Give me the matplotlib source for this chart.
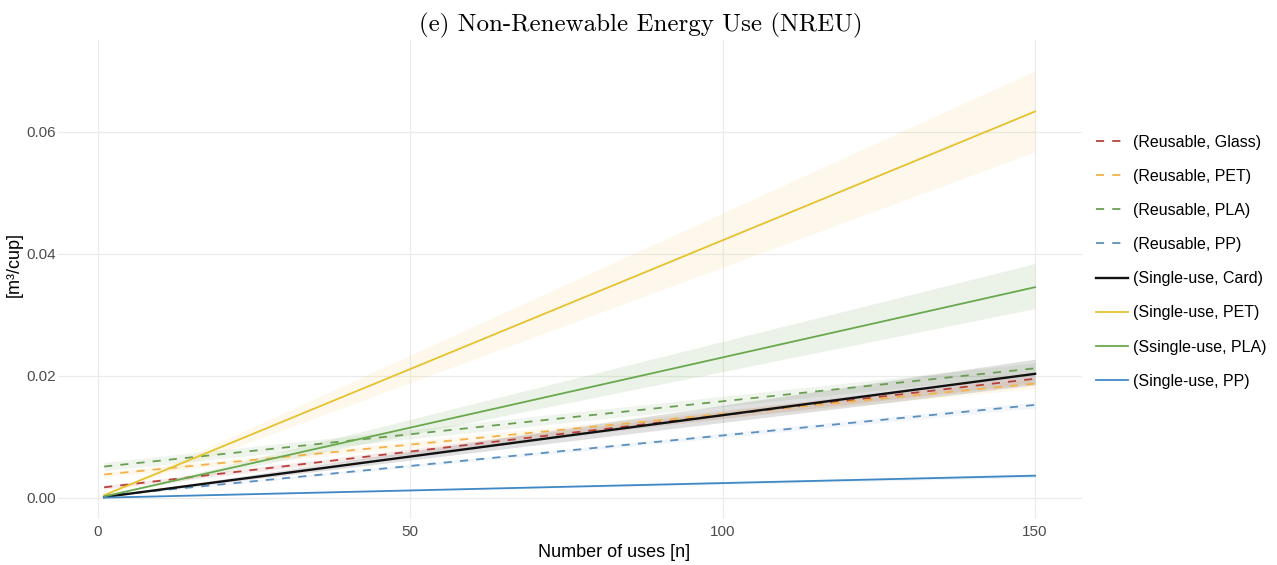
import matplotlib
matplotlib.use("Agg")
import matplotlib.pyplot as plt

plt.rcParams["font.family"] = ["Liberation Sans", "DejaVu Sans"]

# linear trends evaluated at the first and last number of uses
n_uses = [1, 150]

labels = [
    "(Reusable, Glass)",
    "(Reusable, PET)",
    "(Reusable, PLA)",
    "(Reusable, PP)",
    "(Single-use, Card)",
    "(Single-use, PET)",
    "(Ssingle-use, PLA)",
    "(Single-use, PP)",
]

reuse_glass = [0.0017, 0.0195]
reuse_glass_lo = [0.0014, 0.0188]
reuse_glass_hi = [0.0020, 0.0203]

reuse_pet = [0.0038, 0.0187]
reuse_pet_lo = [0.0034, 0.0179]
reuse_pet_hi = [0.0042, 0.0195]

reuse_pla = [0.0051, 0.0212]
reuse_pla_lo = [0.0044, 0.0203]
reuse_pla_hi = [0.0058, 0.0221]

reuse_pp = [0.0003, 0.0152]
reuse_pp_lo = [0.0002, 0.0147]
reuse_pp_hi = [0.0004, 0.0157]

single_card = [0.0001, 0.0203]
single_card_lo = [0.0001, 0.0185]
single_card_hi = [0.0002, 0.0227]

single_pet = [0.0004, 0.0633]
single_pet_lo = [0.0003, 0.0567]
single_pet_hi = [0.0005, 0.0700]

single_pla = [0.0002, 0.0345]
single_pla_lo = [0.0002, 0.0310]
single_pla_hi = [0.0003, 0.0384]

single_pp = [0.0000, 0.0036]
single_pp_lo = [0.0000, 0.0033]
single_pp_hi = [0.0000, 0.0039]

series = [
    (reuse_glass, reuse_glass_lo, reuse_glass_hi, "#b8403a", "dashed", 0.10),
    (reuse_pet, reuse_pet_lo, reuse_pet_hi, "#f2b24a", "dashed", 0.10),
    (reuse_pla, reuse_pla_lo, reuse_pla_hi, "#6b9e55", "dashed", 0.10),
    (reuse_pp, reuse_pp_lo, reuse_pp_hi, "#5a8fc0", "dashed", 0.08),
    (single_card, single_card_lo, single_card_hi, "#111111", "solid", 0.13),
    (single_pet, single_pet_lo, single_pet_hi, "#f0c850", "solid", 0.11),
    (single_pla, single_pla_lo, single_pla_hi, "#6aa84f", "solid", 0.13),
    (single_pp, single_pp_lo, single_pp_hi, "#3f88c5", "solid", 0.10),
]

fig = plt.figure(figsize=(12.77, 5.65), dpi=100)
ax = fig.add_axes([0.0451, 0.0814, 0.8019, 0.8476])

# confidence ribbons underneath the trend lines
for (mid, lo, hi, color, style, band_alpha) in series:
    ax.fill_between(n_uses, lo, hi, color=color, alpha=band_alpha, linewidth=0)

for (mid, lo, hi, color, style, band_alpha), label in zip(series, labels):
    lw = 1.7 if color == "#111111" else 1.3
    line_color = "#e6c22e" if color == "#f0c850" else color
    if style == "dashed":
        ax.plot(n_uses, mid, color=line_color, linewidth=lw, dashes=(4.5, 4.5), label=label)
    else:
        ax.plot(n_uses, mid, color=line_color, linewidth=lw, label=label)

ax.set_xlim(-6.45, 157.45)
ax.set_ylim(-0.0035, 0.0750)
ax.set_xticks([0, 50, 100, 150])
ax.set_yticks([0.00, 0.02, 0.04, 0.06])
ax.set_yticklabels(["0.00", "0.02", "0.04", "0.06"])

ax.grid(True, color="#ebebeb", linewidth=0.9)
ax.set_axisbelow(True)
for side in ax.spines.values():
    side.set_visible(False)
ax.tick_params(length=0, labelsize=11, labelcolor="#4d4d4d")
ax.tick_params(axis="y", pad=1)
ax.tick_params(axis="x", pad=4)

ax.set_xlabel("Number of uses [n]", fontsize=13)
ax.xaxis.set_label_coords(0.543, -0.052)
ax.set_ylabel("[m³/cup]", fontsize=13)
ax.yaxis.set_label_coords(-0.034, 0.532)

fig.suptitle("(e) Non-Renewable Energy Use (NREU)", x=0.502, y=0.977,
             fontsize=18, fontfamily="cmr10", va="top")

ax.legend(loc="center left", bbox_to_anchor=(1.0, 0.5375), frameon=False,
          fontsize=11.5, handlelength=2.0, labelspacing=1.2, handletextpad=0.3)

fig.savefig("out.png", dpi=100)
